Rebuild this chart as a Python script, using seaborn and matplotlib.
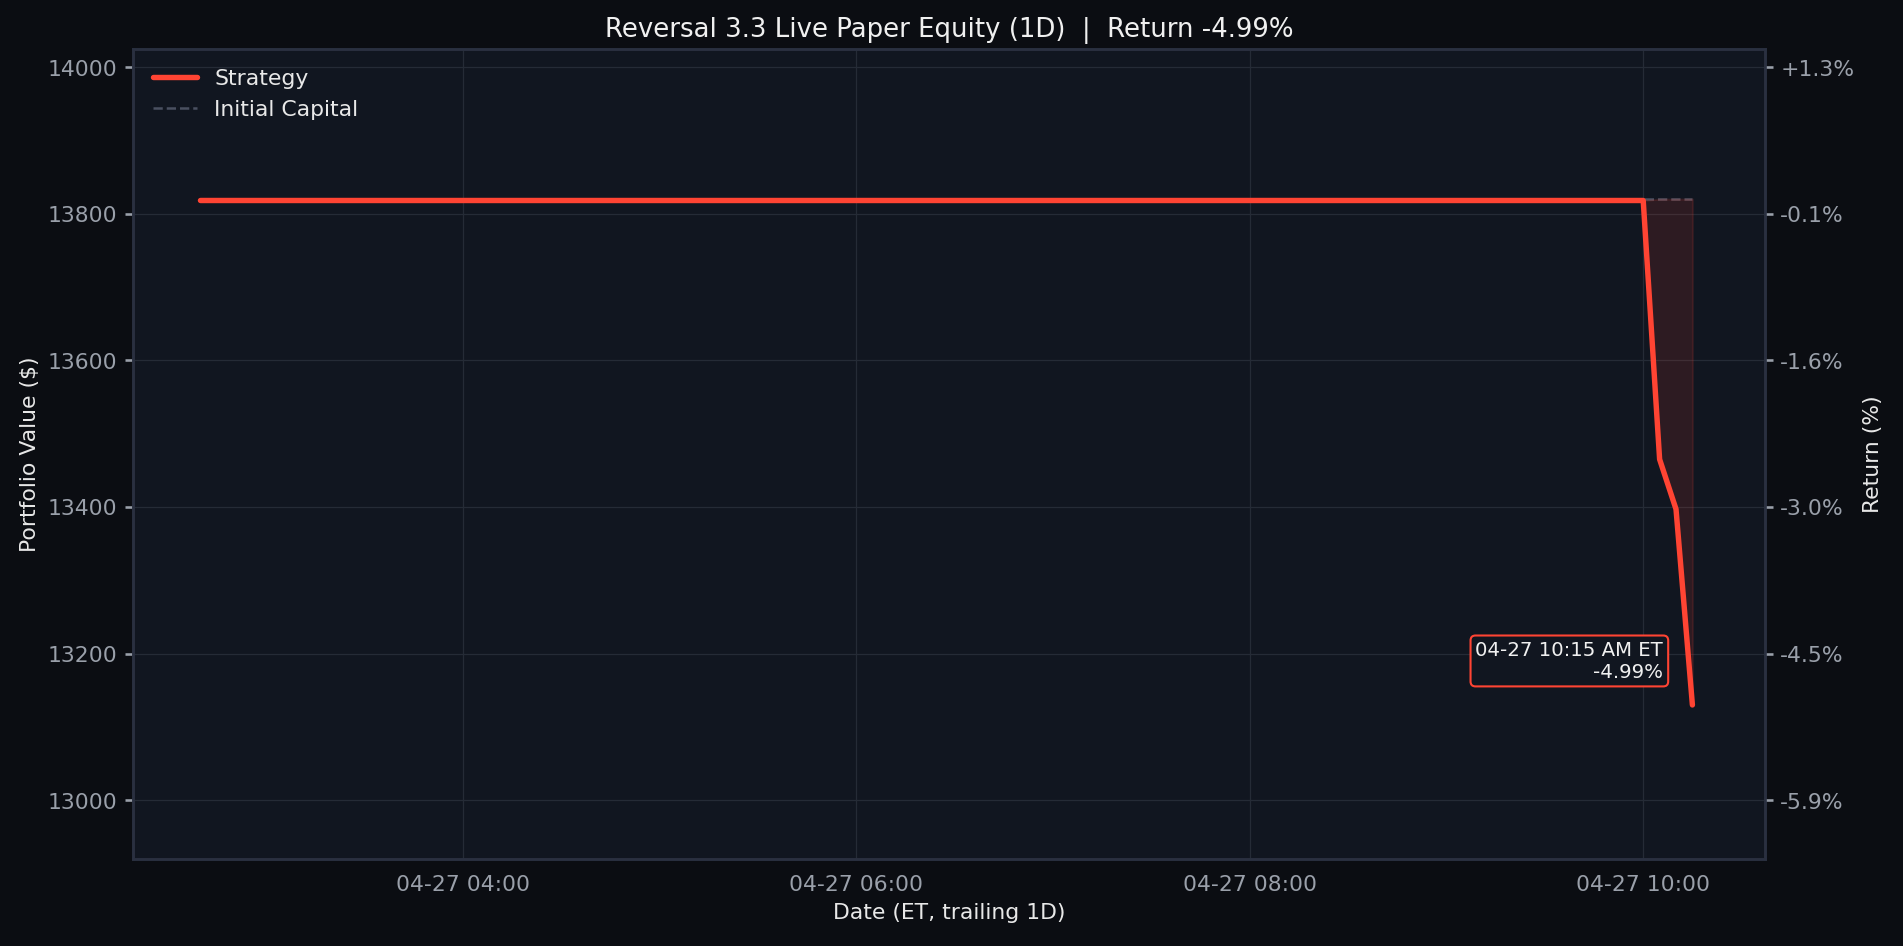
import matplotlib
matplotlib.use("Agg")
import matplotlib.pyplot as plt
import matplotlib.dates as mdates
import seaborn as sns
import pandas as pd
import numpy as np

times = ["2025-04-27 02:40", "2025-04-27 10:00", "2025-04-27 10:05", "2025-04-27 10:10", "2025-04-27 10:15"]
values = [13818, 13818, 13465, 13397, 13130]
initial_capital = 13820.0
ret_ticks = [13000, 13200, 13400, 13600, 13800, 14000]

df = pd.DataFrame({"time": pd.to_datetime(times), "value": values})

sns.set_theme(style="dark")
plt.rcParams['font.family'] = ['DejaVu Sans']
fig, ax = plt.subplots(figsize=(12.69, 6.31), dpi=150)
fig.patch.set_facecolor("#0b0d12")
ax.set_facecolor("#111620")

ax.hlines(initial_capital, df["time"].iloc[0], df["time"].iloc[-1], color="#4a5060", ls="--", lw=1.2,
          label="Initial Capital", zorder=1)
sns.lineplot(data=df, x="time", y="value", ax=ax, color="#ff4433", lw=2.6, label="Strategy", zorder=3)
ax.fill_between(df["time"], df["value"], initial_capital, where=df["value"] < initial_capital - 5,
                color="#ff4433", alpha=0.12, interpolate=True)

ax.set_xlim(pd.Timestamp("2025-04-27 02:19:30"), pd.Timestamp("2025-04-27 10:37"))
ax.set_ylim(12920, 14025)
ax.set_yticks(ret_ticks)
ax.xaxis.set_major_locator(mdates.HourLocator(byhour=[4, 6, 8, 10]))
ax.xaxis.set_major_formatter(mdates.DateFormatter("%m-%d %H:%M"))
ax.grid(True, color="#252b36", lw=0.6)
for s in ax.spines.values():
    s.set_color("#2a3040")
ax.tick_params(colors="#9aa0aa", labelsize=10.5, length=4)
ax.set_xlabel("Date (ET, trailing 1D)", color="#e8e8e8", fontsize=10.5)
ax.set_ylabel("Portfolio Value ($)", color="#e8e8e8", fontsize=10.5)
ax.set_title("Reversal 3.3 Live Paper Equity (1D)  |  Return -4.99%", color="#f0f0f0", fontsize=12.5)

ax2 = ax.twinx()
ax2.set_ylim(ax.get_ylim())
ax2.set_yticks(ret_ticks)
ax2.set_yticklabels([f"{(v/initial_capital-1)*100:+.1f}%" for v in ret_ticks])
ax2.tick_params(colors="#9aa0aa", labelsize=10.5, length=4)
ax2.set_ylabel("Return (%)", color="#e8e8e8", fontsize=10.5)
ax2.grid(False)
for s in ax2.spines.values():
    s.set_color("#2a3040")

h, l = ax.get_legend_handles_labels()
order = [l.index("Strategy"), l.index("Initial Capital")]
leg = ax.legend([h[i] for i in order], [l[i] for i in order], loc="upper left", frameon=False, fontsize=10.5)
for t in leg.get_texts():
    t.set_color("#e8e8e8")

ax.annotate("04-27 10:15 AM ET\n-4.99%", xy=(df["time"].iloc[-1], 13190), xytext=(-14, 0),
            textcoords="offset points", ha="right", va="center", color="#f0f0f0", fontsize=9.5,
            multialignment="right",
            bbox=dict(boxstyle="round,pad=0.25", fc="#111620", ec="#ff4433", lw=1))

fig.subplots_adjust(left=0.07, right=0.927, top=0.948, bottom=0.092)
fig.savefig("out.png", dpi=150, facecolor=fig.get_facecolor())
